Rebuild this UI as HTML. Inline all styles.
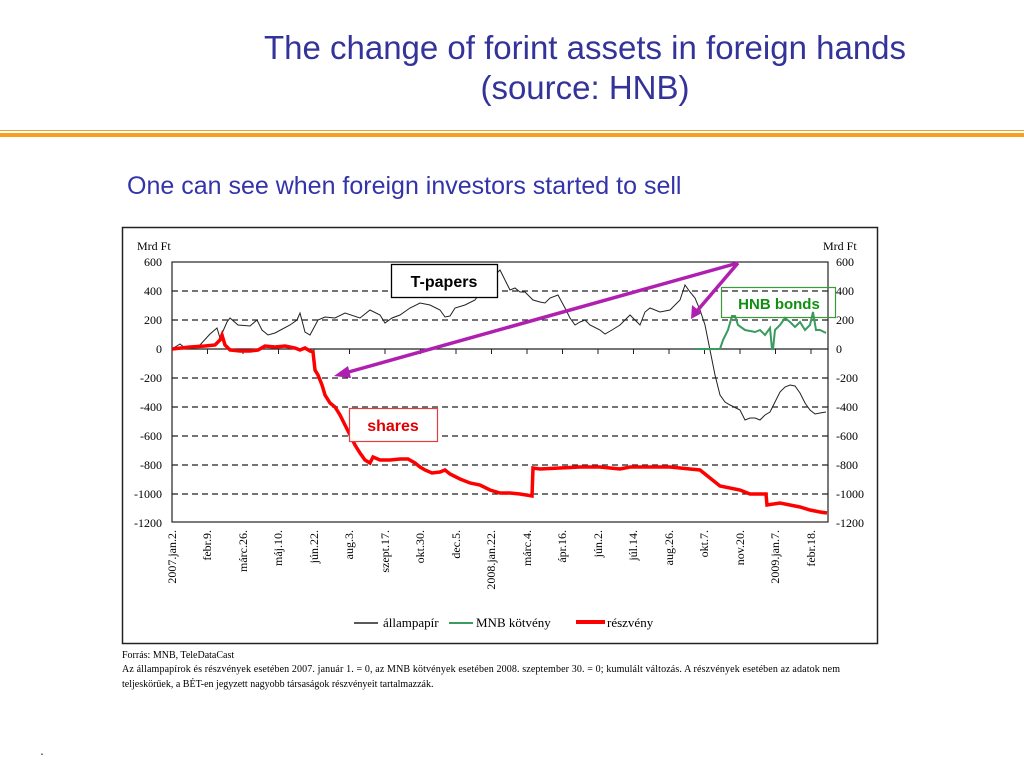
<!DOCTYPE html>
<html><head><meta charset="utf-8"><style>
body{margin:0;width:1024px;height:768px;background:#fff;overflow:hidden;position:relative;font-family:"Liberation Sans",sans-serif}
.t{position:absolute;left:150px;width:870px;text-align:center;color:#333399;font-size:33px;line-height:40px}
</style></head><body>
<div class="t" style="top:28px">The change of forint assets in foreign hands<br>(source: HNB)</div>
<div style="position:absolute;left:0;top:130px;width:1024px;height:1px;background:#e8a030"></div>
<div style="position:absolute;left:0;top:133px;width:1024px;height:4px;background:#f7a020"></div>
<div style="position:absolute;left:127px;top:172px;font-size:25px;color:#3333aa;white-space:nowrap">One can see when foreign investors started to sell</div>
<div style="position:absolute;left:40px;top:742px;font-size:14px;color:#333">.</div>
<svg width="1024" height="768" style="position:absolute;left:0;top:0" font-family="Liberation Serif,serif">
<rect x="122.5" y="227.5" width="755" height="416" fill="none" stroke="#222" stroke-width="1.5"/>
<text x="137" y="250" font-size="12">Mrd Ft</text><text x="823" y="250" font-size="12">Mrd Ft</text>
<g stroke="#222" stroke-dasharray="6,4" stroke-width="1.2">
<line x1="172" x2="828" y1="291" y2="291"/><line x1="172" x2="828" y1="320" y2="320"/>
<line x1="172" x2="828" y1="378" y2="378"/><line x1="172" x2="828" y1="407" y2="407"/>
<line x1="172" x2="828" y1="436" y2="436"/><line x1="172" x2="828" y1="465" y2="465"/>
<line x1="172" x2="828" y1="494" y2="494"/></g>
<rect x="172" y="262" width="656" height="260" fill="none" stroke="#222" stroke-width="1.2"/>
<line x1="172" x2="828" y1="349" y2="349" stroke="#222" stroke-width="1.2"/>
<g stroke="#222"><path d="M207.5 349v5M243 349v5M278.5 349v5M314 349v5M349.5 349v5M385 349v5M420.5 349v5M456 349v5M491.5 349v5M527 349v5M562.5 349v5M598 349v5M633.5 349v5M669 349v5M704.5 349v5M740 349v5M775.5 349v5M811 349v5"/></g>
<g font-size="12" text-anchor="end">
<text x="162" y="266">600</text><text x="162" y="295">400</text><text x="162" y="324">200</text><text x="162" y="353">0</text><text x="162" y="382">-200</text><text x="162" y="411">-400</text><text x="162" y="440">-600</text><text x="162" y="469">-800</text><text x="162" y="498">-1000</text><text x="162" y="527">-1200</text></g>
<g font-size="12">
<text x="836" y="266">600</text><text x="836" y="295">400</text><text x="836" y="324">200</text><text x="836" y="353">0</text><text x="836" y="382">-200</text><text x="836" y="411">-400</text><text x="836" y="440">-600</text><text x="836" y="469">-800</text><text x="836" y="498">-1000</text><text x="836" y="527">-1200</text></g>
<g font-size="12" text-anchor="end">
<text transform="translate(176,530) rotate(-90)">2007.jan.2.</text>
<text transform="translate(211,530) rotate(-90)">febr.9.</text>
<text transform="translate(247,530) rotate(-90)">márc.26.</text>
<text transform="translate(282,530) rotate(-90)">máj.10.</text>
<text transform="translate(318,530) rotate(-90)">jún.22.</text>
<text transform="translate(353,530) rotate(-90)">aug.3.</text>
<text transform="translate(389,530) rotate(-90)">szept.17.</text>
<text transform="translate(424,530) rotate(-90)">okt.30.</text>
<text transform="translate(460,530) rotate(-90)">dec.5.</text>
<text transform="translate(495,530) rotate(-90)">2008.jan.22.</text>
<text transform="translate(531,530) rotate(-90)">márc.4.</text>
<text transform="translate(566,530) rotate(-90)">ápr.16.</text>
<text transform="translate(602,530) rotate(-90)">jún.2.</text>
<text transform="translate(637,530) rotate(-90)">júl.14.</text>
<text transform="translate(673,530) rotate(-90)">aug.26.</text>
<text transform="translate(708,530) rotate(-90)">okt.7.</text>
<text transform="translate(744,530) rotate(-90)">nov.20.</text>
<text transform="translate(779,530) rotate(-90)">2009.jan.7.</text>
<text transform="translate(815,530) rotate(-90)">febr.18.</text></g>
<polyline fill="none" stroke="#222" stroke-width="1" points="172,349 180,344 185,348 200,345 210,334 217,328 220,338 227,322 230,318 238,325 250,326 257,320 262,330 268,335 275,333 290,325 297,320 300,313 305,332 310,335 318,320 325,317 335,318 345,313 360,318 370,310 380,315 385,323 392,318 400,315 410,308 420,303 430,305 440,310 445,317 450,316 455,308 465,305 475,300 480,293 485,280 490,277 495,275 500,270 505,280 510,290 515,288 520,292 525,292 533,300 540,302 545,303 550,298 558,295 565,308 570,318 575,325 580,322 585,320 590,325 600,330 605,334 612,330 620,325 630,315 640,325 645,312 650,308 660,312 670,310 680,300 685,285 690,292 695,298 700,310 705,325 710,350 715,375 720,395 725,402 730,405 740,410 745,420 750,418 755,418 760,420 765,415 770,412 775,402 780,392 785,387 790,385 795,386 800,393 805,403 810,410 815,414 820,413 826,412"/>
<polyline fill="none" stroke="#3a9a60" stroke-width="2" points="695,349 720,349 723,340 728,330 732,316 735,316 738,325 745,330 755,332 760,330 765,335 770,328 772,349 773,349 775,330 780,325 785,318 790,322 795,327 800,322 805,330 810,325 813,312 816,330 820,330 826,333"/>
<polyline fill="none" stroke="#f00" stroke-width="3.5" points="172,349 190,347 205,346 215,345 220,340 222,335 225,345 230,350 240,351 250,351 258,350 265,346 275,347 285,346 295,348 300,350 305,348 310,351 313,352 315,370 318,375 322,385 325,395 330,403 335,407 340,415 345,425 350,435 355,445 360,453 365,460 370,463 373,457 380,460 390,460 400,459 408,459 415,463 420,467 425,470 432,473 440,472 445,470 450,474 460,479 470,483 480,485 490,490 500,493 510,493 520,494 532,496 533,468 540,469 560,468 580,467 600,467 620,469 630,467 650,467 670,467 690,469 700,470 710,478 720,486 740,490 750,494 760,494 766,494 767,505 780,503 800,507 810,510 820,512 827,513"/>
<g stroke="#b020b0" stroke-width="3.5" fill="#b020b0">
<line x1="738" y1="263" x2="345" y2="373"/><polygon points="334,376 348,366 351,378" stroke="none"/>
<line x1="738" y1="263" x2="697" y2="311"/><polygon points="691,319 692,305 702,313" stroke="none"/></g>
<rect x="391.5" y="264.5" width="106" height="33" fill="#fff" stroke="#000" stroke-width="1.3"/>
<text x="444" y="287" font-family="Liberation Sans,sans-serif" font-weight="bold" font-size="16" text-anchor="middle">T-papers</text>
<rect x="721.5" y="287.5" width="114" height="30" fill="none" stroke="#3a9a3a" stroke-width="1.2"/>
<text x="779" y="309" font-family="Liberation Sans,sans-serif" font-weight="bold" font-size="15" fill="#109010" text-anchor="middle">HNB bonds</text>
<rect x="349.5" y="408.5" width="88" height="33" fill="#fff" stroke="#e04040" stroke-width="1.2"/>
<text x="393" y="431" font-family="Liberation Sans,sans-serif" font-weight="bold" font-size="16" fill="#e00000" text-anchor="middle">shares</text>
<g font-size="13">
<line x1="354" x2="378" y1="623" y2="623" stroke="#222" stroke-width="1.5"/><text x="383" y="627">állampapír</text>
<line x1="449" x2="473" y1="623" y2="623" stroke="#3a9a60" stroke-width="2"/><text x="476" y="627">MNB kötvény</text>
<line x1="576" x2="605" y1="622" y2="622" stroke="#f00" stroke-width="4"/><text x="607" y="627">részvény</text></g>
<g font-size="10">
<text x="122" y="658">Forrás: MNB, TeleDataCast</text>
<text x="122" y="672" textLength="718">Az állampapírok és részvények esetében 2007. január 1. = 0, az MNB kötvények esetében 2008. szeptember 30. = 0; kumulált változás. A részvények esetében az adatok nem</text>
<text x="122" y="687">teljeskörűek, a BÉT-en jegyzett nagyobb társaságok részvényeit tartalmazzák.</text></g>
</svg>
</body></html>
